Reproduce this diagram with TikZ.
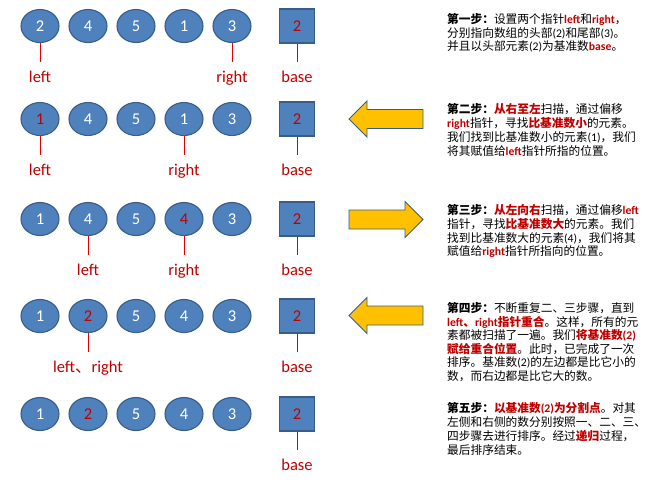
\documentclass[tikz,border=0pt]{standalone}
\usepackage{fontspec}
\setmainfont{Carlito}
\newfontfamily\cjk{Noto Sans CJK SC}
\newfontfamily\lat{Carlito}
\usetikzlibrary{shapes.geometric}
\definecolor{fillblue}{HTML}{4F81BD}
\definecolor{edgeblue}{HTML}{385D8A}
\definecolor{hred}{HTML}{C00000}
\definecolor{linered}{HTML}{E00000}
\definecolor{arrowfill}{HTML}{FFC000}
\newcommand\kw[1]{{\lat\bfseries\color{hred}#1}}
\newcommand\hk[1]{{\bfseries\color{hred}#1}}
\newcommand\pn[1]{{\lat #1}}
\tikzset{
  numell/.style={ellipse, minimum width=38pt, minimum height=33pt, inner sep=0pt,
    fill=fillblue, draw=edgeblue, line width=1.1pt, text=white,
    font=\lat\fontsize{16.5}{16.5}\selectfont},
  basebox/.style={rectangle, minimum width=35pt, minimum height=34pt, inner sep=0pt,
    fill=fillblue, draw=edgeblue, line width=1.1pt, text=hred,
    font=\lat\fontsize{16.5}{16.5}\selectfont},
  ptrlbl/.style={anchor=base, text=hred, font=\lat\fontsize{16.5}{16.5}\selectfont,
    text height=11pt, inner xsep=0pt, inner ysep=9pt},
  ptrline/.style={draw=linered, line width=1pt},
  bigarrow/.style={fill=arrowfill, draw=edgeblue, line width=0.9pt, line join=miter},
  txt/.style={anchor=base west, inner sep=0pt, text=black,
    font=\cjk\fontsize{11.7}{13.6}\selectfont}
}
\begin{document}
\begin{tikzpicture}[x=1pt, y=-1pt]
\useasboundingbox (0,0) rectangle (662,483);
\fill[white] (0,0) rectangle (662,483);

% ---- number rows
\foreach \row/\y/\vals/\red in {1/26/{2,4,5,1,3}/0, 2/119/{1,4,5,1,3}/1, 3/219/{1,4,5,4,3}/4, 4/316/{1,2,5,4,3}/2, 5/414/{1,2,5,4,3}/2}{
  \foreach \v [count=\i] in \vals {
    \node[numell] (e\row-\i) at ({40+48*(\i-1)}, \y) {\ifnum\i=\red\color{hred}\fi\v};
  }
  \node[basebox] (b\row) at (297, \y) {2};
}

% ---- pointer labels
\node[ptrlbl] (l1a) at (40, 82) {left};
\node[ptrlbl] (l1b) at (232, 82) {right};
\node[ptrlbl] (l1c) at (297, 82) {base};
\draw[ptrline] (e1-1.south) -- (l1a.north);
\draw[ptrline] (e1-5.south) -- (l1b.north);
\draw[ptrline] (b1.south) -- (l1c.north);

\node[ptrlbl] (l2a) at (40, 175) {left};
\node[ptrlbl] (l2b) at (184, 175) {right};
\node[ptrlbl] (l2c) at (297, 175) {base};
\draw[ptrline] (e2-1.south) -- (l2a.north);
\draw[ptrline] (e2-4.south) -- (l2b.north);
\draw[ptrline] (b2.south) -- (l2c.north);

\node[ptrlbl] (l3a) at (88, 275) {left};
\node[ptrlbl] (l3b) at (184, 275) {right};
\node[ptrlbl] (l3c) at (297, 275) {base};
\draw[ptrline] (e3-2.south) -- (l3a.north);
\draw[ptrline] (e3-4.south) -- (l3b.north);
\draw[ptrline] (b3.south) -- (l3c.north);

\node[ptrlbl] (l4a) at (88, 372) {left{\cjk 、}right};
\node[ptrlbl] (l4c) at (297, 372) {base};
\draw[ptrline] (e4-2.south) -- (l4a.north);
\draw[ptrline] (b4.south) -- (l4c.north);

\node[ptrlbl] (l5c) at (297, 470) {base};
\draw[ptrline] (b5.south) -- (l5c.north);

% ---- big arrows
\draw[bigarrow] (349,119) -- (367,101) -- (367,109.5) -- (423,109.5) -- (423,128.5) -- (367,128.5) -- (367,137) -- cycle;
\draw[bigarrow] (423,219.5) -- (405,201.5) -- (405,210) -- (349,210) -- (349,229) -- (405,229) -- (405,237.5) -- cycle;
\draw[bigarrow] (349,315.5) -- (367,297.5) -- (367,306) -- (423,306) -- (423,325) -- (367,325) -- (367,333.5) -- cycle;

% ---- explanation texts
\node[txt] (t11) at (447,23.5) {{\bfseries 第一步：}设置两个指针\kw{left}和\kw{right}，};
\node[txt] (t12) at (447,37) {分别指向数组的头部\pn{(2)}和尾部\pn{(3)}。};
\node[txt] (t13) at (447,50.5) {并且以头部元素\pn{(2)}为基准数\kw{base}。};

\node[txt] (t21) at (447,113.5) {{\bfseries 第二步：}\hk{从右至左}扫描，通过偏移};
\node[txt] (t22) at (447,127.5) {\kw{right}指针，寻找\hk{比基准数小}的元素。};
\node[txt] (t23) at (447,141.5) {我们找到比基准数小的元素\pn{(1)}，我们};
\node[txt] (t24) at (447,155.5) {将其赋值给\kw{left}指针所指的位置。};

\node[txt] (t31) at (447,214.5) {{\bfseries 第三步：}\hk{从左向右}扫描，通过偏移\kw{left}};
\node[txt] (t32) at (447,228.3) {指针，寻找\hk{比基准数大}的元素。我们};
\node[txt] (t33) at (447,242.1) {找到比基准数大的元素\pn{(4)}，我们将其};
\node[txt] (t34) at (447,255.9) {赋值给\kw{right}指针所指向的位置。};

\node[txt] (t41) at (447,312.5) {{\bfseries 第四步：}不断重复二、三步骤，直到};
\node[txt] (t42) at (447,326) {\kw{left}\hk{、}\kw{right}\hk{指针重合}。这样，所有的元};
\node[txt] (t43) at (447,339.5) {素都被扫描了一遍。我们\hk{将基准数}\kw{(2)}};
\node[txt] (t44) at (447,353) {\hk{赋给重合位置}。此时，已完成了一次};
\node[txt] (t45) at (447,366.5) {排序。基准数\pn{(2)}的左边都是比它小的};
\node[txt] (t46) at (447,380) {数，而右边都是比它大的数。};

\node[txt] (t51) at (447,412.5) {{\bfseries 第五步：}\hk{以基准数}\kw{(2)}\hk{为分割点}。对其};
\node[txt] (t52) at (447,426.5) {左侧和右侧的数分别按照一、二、三、};
\node[txt] (t53) at (447,440.5) {四步骤去进行排序。经过\hk{递归}过程，};
\node[txt] (t54) at (447,454.5) {最后排序结束。};
\end{tikzpicture}
\end{document}
